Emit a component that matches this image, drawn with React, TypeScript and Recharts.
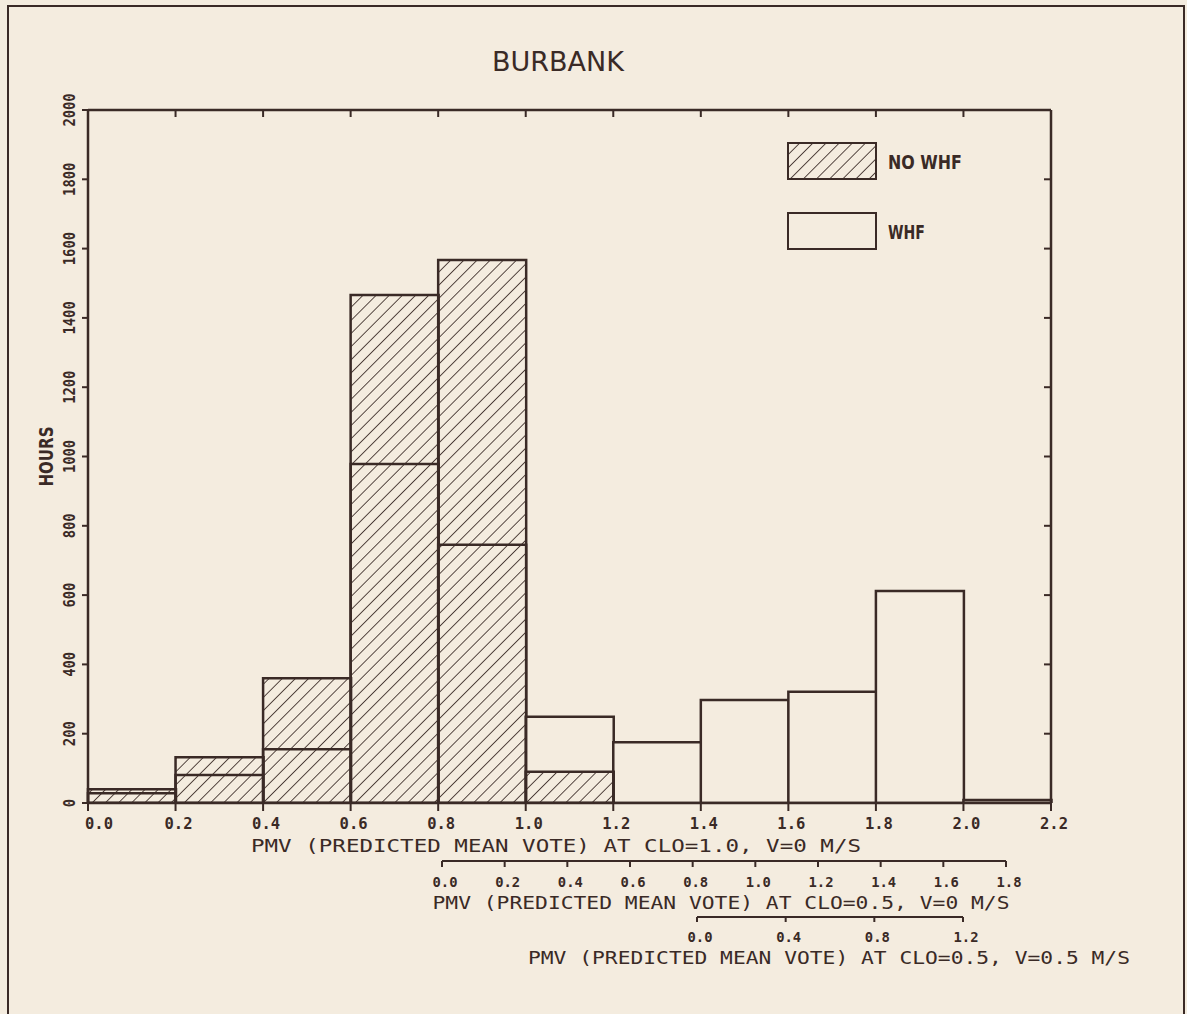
import { Bar, BarChart, Legend, XAxis, YAxis } from "recharts";

// bins of 0.2 PMV units, labelled by their lower edge
const bins = ["0.0", "0.2", "0.4", "0.6", "0.8", "1.0", "1.2", "1.4", "1.6", "1.8", "2.0"];
const noWhfHours = [40, 132, 360, 1466, 1567, 90, 0, 0, 0, 0, 0];
const whfHours = [28, 81, 155, 978, 745, 249, 175, 297, 321, 612, 9];

const cloOneTicks = [0, 0.2, 0.4, 0.6, 0.8, 1.0, 1.2, 1.4, 1.6, 1.8, 2.0, 2.2];
const cloHalfTicks = [0, 0.2, 0.4, 0.6, 0.8, 1.0, 1.2, 1.4, 1.6, 1.8];
const cloHalfWindTicks = [0, 0.4, 0.8, 1.2];
const hourTicks = [0, 200, 400, 600, 800, 1000, 1200, 1400, 1600, 1800, 2000];

const data = bins.map((bin, i) => ({
  bin,
  edge: Number(bin),
  whf: whfHours[i],
  noWhf: noWhfHours[i],
}));

const INK = "#3a2a26";
const PAPER = "#f4ecdf";
const MONO = "'DejaVu Sans Mono', monospace";
const SANS = "'DejaVu Sans', sans-serif";

const Hatch = ({ id }: { id: string }) => (
  <pattern id={id} patternUnits="userSpaceOnUse" width={9.3} height={9.3} patternTransform="rotate(45)">
    <line x1={0} y1={0} x2={0} y2={9.3} stroke={INK} strokeWidth={1.7} />
  </pattern>
);

const MainTick = ({ x, y, payload }: any) => (
  <text
    x={x + (payload.value === 0 ? 11 : 3)}
    y={y}
    dy="0.71em"
    textAnchor="middle"
    fill={INK}
    fontFamily={MONO}
    fontWeight="bold"
    fontSize={15}
    textLength={28}
    lengthAdjust="spacingAndGlyphs"
  >
    {Number(payload.value).toFixed(1)}
  </text>
);

const SmallTick = ({ x, y, payload }: any) => (
  <text
    x={x + 3}
    y={y}
    dy="0.71em"
    textAnchor="middle"
    fill={INK}
    fontFamily={MONO}
    fontWeight="bold"
    fontSize={13.5}
    textLength={25}
    lengthAdjust="spacingAndGlyphs"
  >
    {Number(payload.value).toFixed(1)}
  </text>
);

const NoLabel = () => <g />;

const HoursTick = ({ x, y, payload }: any) => {
  const cx = x - 10;
  const label = String(payload.value);
  return (
    <text
      x={cx}
      y={y}
      transform={`rotate(-90 ${cx} ${y})`}
      textAnchor="middle"
      dominantBaseline="central"
      fill={INK}
      fontFamily={MONO}
      fontWeight="bold"
      fontSize={15}
      textLength={label.length * 8.3}
      lengthAdjust="spacingAndGlyphs"
    >
      {label}
    </text>
  );
};

// axis title, plus the short bracket line for the extra scales
const scaleTitle =
  (text: string, cx: number, dy: number, len: number, pad?: [number, number]) =>
  ({ viewBox }: any) => {
    const { x, y, width } = viewBox;
    return (
      <g>
        {pad && (
          <line x1={x + pad[0]} x2={x + width - pad[1]} y1={y} y2={y} stroke={INK} strokeWidth={2} />
        )}
        <text
          x={cx}
          y={y + dy}
          textAnchor="middle"
          dominantBaseline="central"
          fill={INK}
          fontFamily={MONO}
          fontSize={17}
          textLength={len}
          lengthAdjust="spacingAndGlyphs"
        >
          {text}
        </text>
      </g>
    );
  };

const hoursTitle = ({ viewBox }: any) => {
  const cx = viewBox.x + 38;
  const cy = viewBox.y + viewBox.height / 2;
  return (
    <text
      x={cx}
      y={cy}
      transform={`rotate(-90 ${cx} ${cy})`}
      textAnchor="middle"
      dominantBaseline="central"
      fill={INK}
      fontFamily={SANS}
      fontWeight="bold"
      fontSize={20}
      textLength={60}
      lengthAdjust="spacingAndGlyphs"
    >
      HOURS
    </text>
  );
};

const LegendBoxes = ({ payload }: any) => {
  const items = [...(payload || [])].sort((a: any, b: any) =>
    a.dataKey === "noWhf" ? -1 : b.dataKey === "noWhf" ? 1 : 0
  );
  return (
    <svg width={200} height={112}>
      <defs>
        <Hatch id="hatchLegend" />
      </defs>
      {items.map((item: any, i: number) => (
        <g key={item.value}>
          <rect
            x={1}
            y={1 + i * 70}
            width={88}
            height={36}
            fill={item.dataKey === "noWhf" ? "url(#hatchLegend)" : PAPER}
            stroke={INK}
            strokeWidth={2}
          />
          <text
            x={101}
            y={20 + i * 70}
            dominantBaseline="central"
            fill={INK}
            fontFamily={SANS}
            fontWeight="bold"
            fontSize={19}
            textLength={item.value.length * 12.3}
            lengthAdjust="spacingAndGlyphs"
          >
            {item.value}
          </text>
        </g>
      ))}
    </svg>
  );
};

export default function App() {
  return (
    <div
      style={{
        position: "absolute",
        left: 0,
        top: 0,
        width: 1187,
        height: 1014,
        background: PAPER,
        overflow: "hidden",
      }}
    >
      <div
        style={{
          position: "absolute",
          left: 7,
          top: 5,
          width: 1174,
          height: 1100,
          border: `2px solid ${INK}`,
        }}
      />
      <div
        style={{
          position: "absolute",
          left: 0,
          width: 1116,
          top: 44,
          textAlign: "center",
          fontFamily: SANS,
          fontSize: 27,
          color: INK,
          lineHeight: "36px",
        }}
      >
        BURBANK
      </div>
      <div style={{ position: "absolute", left: 0, top: 0 }}>
        <BarChart
          width={1187}
          height={1014}
          data={data}
          margin={{ top: 110, right: 136, bottom: 47, left: 8 }}
          barCategoryGap={0}
          barGap={0}
        >
          <defs>
            <Hatch id="hatch" />
          </defs>

          <XAxis
            xAxisId="pmv1"
            type="number"
            dataKey="edge"
            domain={[0, 2.2]}
            allowDataOverflow
            ticks={cloOneTicks}
            interval={0}
            height={58}
            stroke={INK}
            axisLine={{ stroke: INK, strokeWidth: 2.5 }}
            tickLine={{ stroke: INK, strokeWidth: 2 }}
            tickSize={8}
            tickMargin={7}
            tick={<MainTick />}
            label={{
              content: scaleTitle("PMV (PREDICTED MEAN VOTE) AT CLO=1.0, V=0 M/S", 556, 43, 610),
            }}
          />
          <XAxis
            xAxisId="pmv2"
            type="number"
            dataKey="edge"
            domain={[0, 1.8]}
            allowDataOverflow
            ticks={cloHalfTicks}
            interval={0}
            padding={{ left: 354, right: 45 }}
            height={56}
            axisLine={false}
            tickLine={{ stroke: INK, strokeWidth: 2 }}
            tickSize={6}
            tickMargin={10}
            tick={<SmallTick />}
            label={{
              content: scaleTitle("PMV (PREDICTED MEAN VOTE) AT CLO=0.5, V=0 M/S", 721, 42, 577, [354, 45]),
            }}
          />
          <XAxis
            xAxisId="pmv3"
            type="number"
            dataKey="edge"
            domain={[0, 1.2]}
            allowDataOverflow
            ticks={cloHalfWindTicks}
            interval={0}
            padding={{ left: 609, right: 88 }}
            height={50}
            axisLine={false}
            tickLine={{ stroke: INK, strokeWidth: 2 }}
            tickSize={5}
            tickMargin={10}
            tick={<SmallTick />}
            label={{
              content: scaleTitle("PMV (PREDICTED MEAN VOTE) AT CLO=0.5, V=0.5 M/S", 829, 41, 602, [609, 88]),
            }}
          />
          <XAxis
            xAxisId="top"
            orientation="top"
            type="number"
            dataKey="edge"
            domain={[0, 2.2]}
            allowDataOverflow
            ticks={cloOneTicks}
            interval={0}
            mirror
            height={1}
            axisLine={{ stroke: INK, strokeWidth: 2.5 }}
            tickLine={{ stroke: INK, strokeWidth: 2 }}
            tickSize={7}
            tick={<NoLabel />}
          />
          <XAxis xAxisId="whf" dataKey="bin" hide height={0} />
          <XAxis xAxisId="x_noWhf" dataKey="bin" hide height={0} />

          <YAxis
            domain={[0, 2000]}
            allowDataOverflow
            ticks={hourTicks}
            interval={0}
            width={80}
            axisLine={{ stroke: INK, strokeWidth: 2.5 }}
            tickLine={{ stroke: INK, strokeWidth: 2 }}
            tickSize={6}
            tickMargin={2}
            tick={<HoursTick />}
            label={{ content: hoursTitle }}
          />
          <YAxis
            yAxisId="right"
            orientation="right"
            dataKey="whf"
            domain={[0, 2000]}
            allowDataOverflow
            ticks={hourTicks}
            interval={0}
            mirror
            width={1}
            axisLine={{ stroke: INK, strokeWidth: 2.5 }}
            tickLine={{ stroke: INK, strokeWidth: 2 }}
            tickSize={7}
            tick={<NoLabel />}
          />

          <Legend
            layout="vertical"
            align="center"
            verticalAlign="middle"
            content={<LegendBoxes />}
            wrapperStyle={{ position: "absolute", left: 787, top: 142, width: 200, height: 112 }}
          />

          <Bar
            xAxisId="whf"
            dataKey="whf"
            name="WHF"
            fill={PAPER}
            stroke={INK}
            strokeWidth={2.5}
            isAnimationActive={false}
          />
          <Bar
            xAxisId="x_noWhf"
            dataKey="noWhf"
            name="NO WHF"
            fill="url(#hatch)"
            stroke={INK}
            strokeWidth={2.5}
            isAnimationActive={false}
          />
        </BarChart>
      </div>
    </div>
  );
}
